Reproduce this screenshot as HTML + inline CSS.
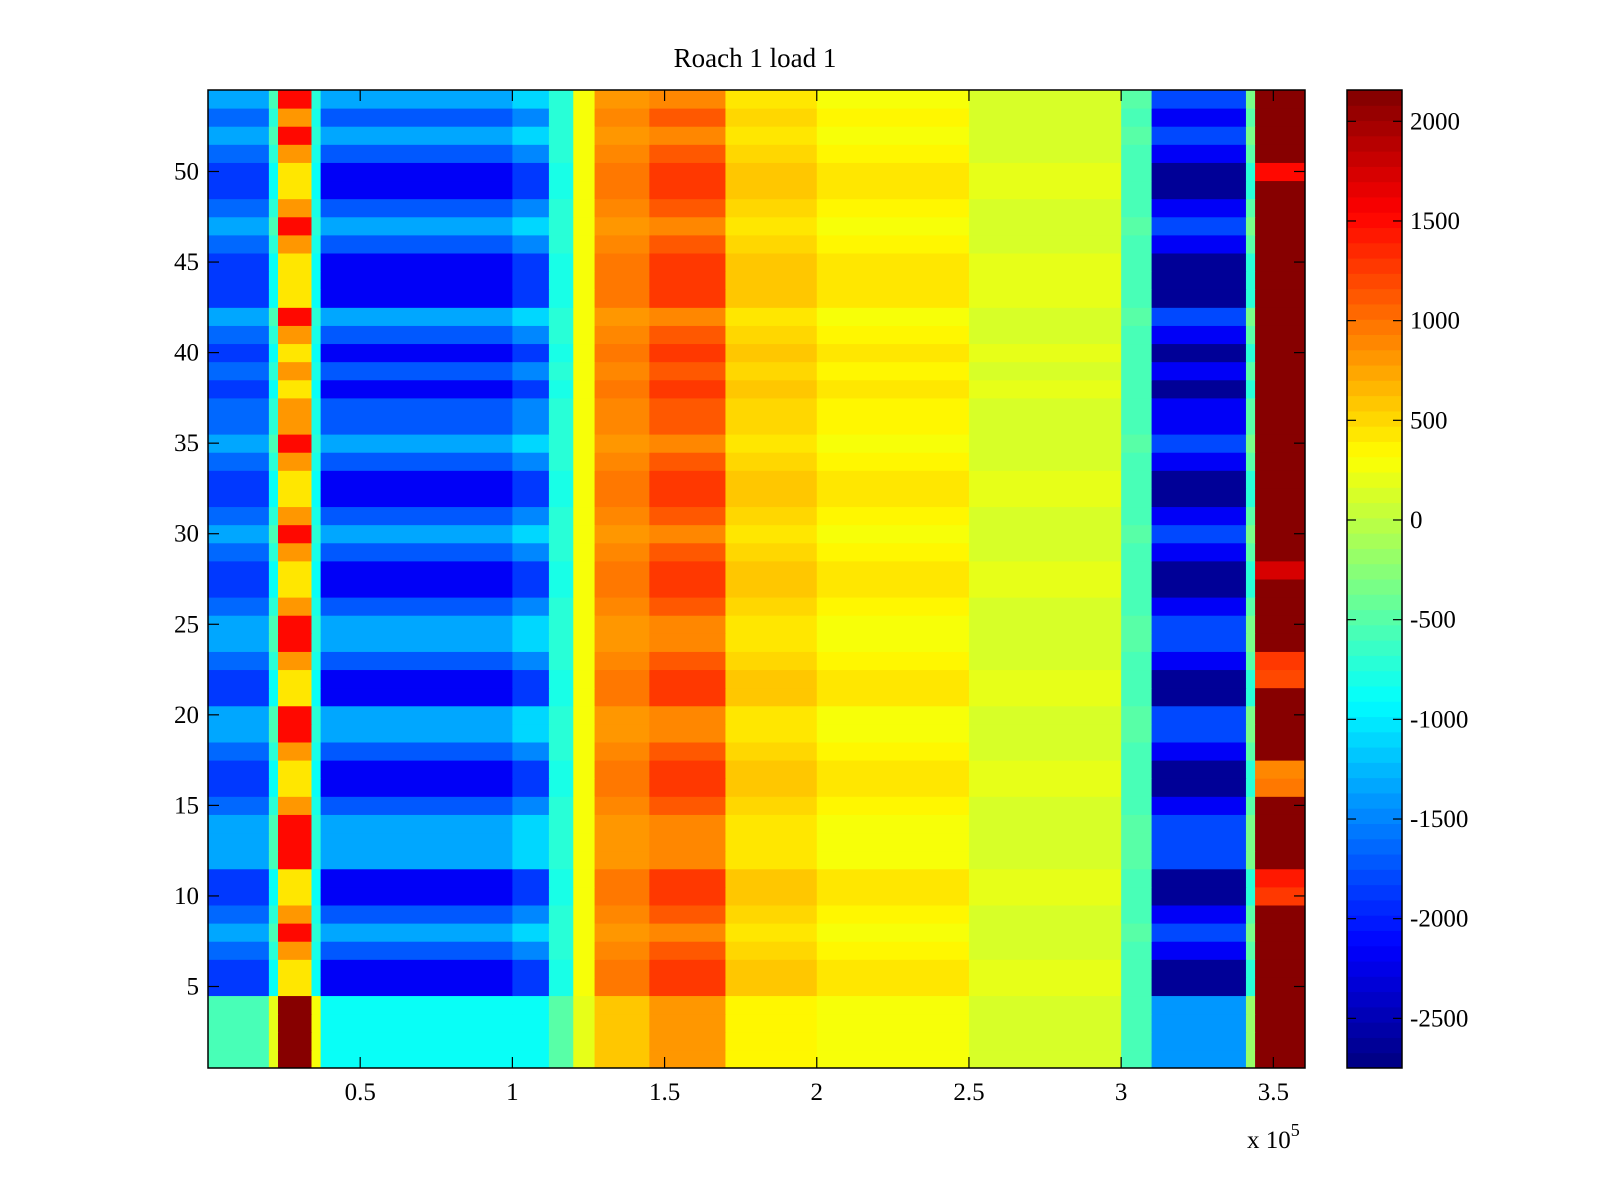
<!DOCTYPE html>
<html><head><meta charset="utf-8"><style>
html,body{margin:0;padding:0;background:#fff;}
svg{display:block;font-family:"Liberation Serif",serif;}
</style></head><body>
<svg id="chart" width="1600" height="1200" viewBox="0 0 1600 1200" xmlns="http://www.w3.org/2000/svg">
<rect width="1600" height="1200" fill="#fff"/>
<text x="755" y="67" font-size="27" text-anchor="middle">Roach 1 load 1</text>
<g id="cells"></g>
<g id="cbar"></g>
<g id="axes"></g>
<text x="1247" y="1148" font-size="25">x 10<tspan dy="-12" font-size="18">5</tspan></text>
</svg>
<script>
// ---- data ----
const xEdges = [0, 0.2, 0.23, 0.34, 0.37, 1.0, 1.12, 1.2, 1.27, 1.45, 1.7, 2.0, 2.5, 3.0, 3.1, 3.41, 3.44, 3.604];
const profileA = [-1900, -900, 400, -900, -2200, -1900, -800, 300, 1000, 1300, 600, 400, 200, -600, -2650, -700, 2150];
const profileB = [-1300, -600, 1500, -700, -1300, -1100, -700, 300, 800, 900, 450, 300, 150, -500, -1800, -300, 2150];
const profileC = [-600, 200, 2100, 300, -900, -850, -500, 200, 600, 800, 350, 250, 100, -600, -1400, -200, 2150];
const profileD = [-1600, -700, 800, -800, -1700, -1500, -700, 300, 900, 1100, 500, 350, 150, -600, -2200, -500, 2150];
const profiles = {A: profileA, B: profileB, C: profileC, D: profileD};
const rowTypes = ["C","C","C","C","A","A","D","B","D","A","A","B","B","B","D","A","A","D","B","B","A","A","D","B","B","D","A","A","D","B","D","A","A","D","B","D","D","A","D","A","D","B","A","A","A","D","B","D","A","A","D","B","D","B"];
const rightEndValues = {10: 1300, 11: 1400, 16: 1000, 17: 900, 22: 1200, 23: 1300, 28: 1700, 50: 1500};
const xTicks = [0.5, 1, 1.5, 2, 2.5, 3, 3.5];
const xTickLabels = ["0.5", "1", "1.5", "2", "2.5", "3", "3.5"];
const yTicks = [5, 10, 15, 20, 25, 30, 35, 40, 45, 50];
const cTicks = [2000, 1500, 1000, 500, 0, -500, -1000, -1500, -2000, -2500];
const cMin = -2749, cMax = 2157;

// ---- geometry ----
const L = 208, R = 1305, T = 90, B = 1068;
const xMin = 0, xMax = 3.604, yMin = 0.5, yMax = 54.5;
const xs = v => L + (v - xMin) / (xMax - xMin) * (R - L);
const ys = v => B - (v - yMin) / (yMax - yMin) * (B - T);
const CBL = 1347, CBR = 1402;
const cs = v => B - (v - cMin) / (cMax - cMin) * (B - T);

function jet(t) {
  t = Math.max(0, Math.min(1, t));
  const idx = Math.min(63, Math.floor(t * 64));
  const x = (idx + 0.5) / 64;
  const f = a => Math.max(0, Math.min(1, a));
  const r = f(1.5 - Math.abs(4 * x - 3)), g = f(1.5 - Math.abs(4 * x - 2)), b = f(1.5 - Math.abs(4 * x - 1));
  return `rgb(${Math.round(r*255)},${Math.round(g*255)},${Math.round(b*255)})`;
}
const colorOf = v => jet((v - cMin) / (cMax - cMin));
const NS = "http://www.w3.org/2000/svg";
function mk(tag, attrs, parent) {
  const e = document.createElementNS(NS, tag);
  for (const k in attrs) e.setAttribute(k, attrs[k]);
  parent.appendChild(e);
  return e;
}

// ---- cells ----
const cells = document.getElementById("cells");
rowTypes.forEach((t, ri) => {
  const row = ri + 1;
  const vals = profiles[t].slice();
  if (rightEndValues[row] !== undefined) vals[vals.length - 1] = rightEndValues[row];
  const y0 = ys(row + 0.5), y1 = ys(row - 0.5);
  vals.forEach((v, ci) => {
    const x0 = xs(xEdges[ci]), x1 = xs(xEdges[ci + 1]);
    const r = mk("rect", {x: x0, y: y0, width: x1 - x0 + 0.5, height: y1 - y0 + 0.5, fill: colorOf(v)}, cells);
    
    
  });
});

// ---- colorbar ----
const cbar = document.getElementById("cbar");
for (let i = 0; i < 64; i++) {
  const v0 = cMin + i * (cMax - cMin) / 64, v1 = cMin + (i + 1) * (cMax - cMin) / 64;
  const r = mk("rect", {x: CBL, y: cs(v1), width: CBR - CBL, height: cs(v0) - cs(v1) + 0.5, fill: jet((i + 0.5) / 64)}, cbar);
  
  
}
const cbFrame = mk("rect", {x: CBL, y: T, width: CBR - CBL, height: B - T, fill: "none", stroke: "#000", "stroke-width": 1.5}, cbar);


cTicks.forEach(v => {
  const y = cs(v);
  mk("line", {x1: CBL, x2: CBL + 9, y1: y, y2: y, stroke: "#000", "stroke-width": 1.2}, cbar);
  mk("line", {x1: CBR - 9, x2: CBR, y1: y, y2: y, stroke: "#000", "stroke-width": 1.2}, cbar);
  const t = mk("text", {x: 1410, y: y + 8, "font-size": 25}, cbar);
  t.textContent = String(v);
  
  
});

// ---- axes ----
const axes = document.getElementById("axes");
const frame = mk("rect", {x: L, y: T, width: R - L, height: B - T, fill: "none", stroke: "#000", "stroke-width": 1.5}, axes);


xTicks.forEach((v, i) => {
  const x = xs(v);
  mk("line", {x1: x, x2: x, y1: B, y2: B - 11, stroke: "#000", "stroke-width": 1.2}, axes);
  mk("line", {x1: x, x2: x, y1: T, y2: T + 11, stroke: "#000", "stroke-width": 1.2}, axes);
  const t = mk("text", {x: x, y: 1100, "font-size": 25, "text-anchor": "middle"}, axes);
  t.textContent = xTickLabels[i];
  
  
});
yTicks.forEach(v => {
  const y = ys(v);
  mk("line", {x1: L, x2: L + 11, y1: y, y2: y, stroke: "#000", "stroke-width": 1.2}, axes);
  mk("line", {x1: R - 11, x2: R, y1: y, y2: y, stroke: "#000", "stroke-width": 1.2}, axes);
  const t = mk("text", {x: 199, y: y + 8, "font-size": 25, "text-anchor": "end"}, axes);
  t.textContent = String(v);
  
  
});
</script>
</body></html>
